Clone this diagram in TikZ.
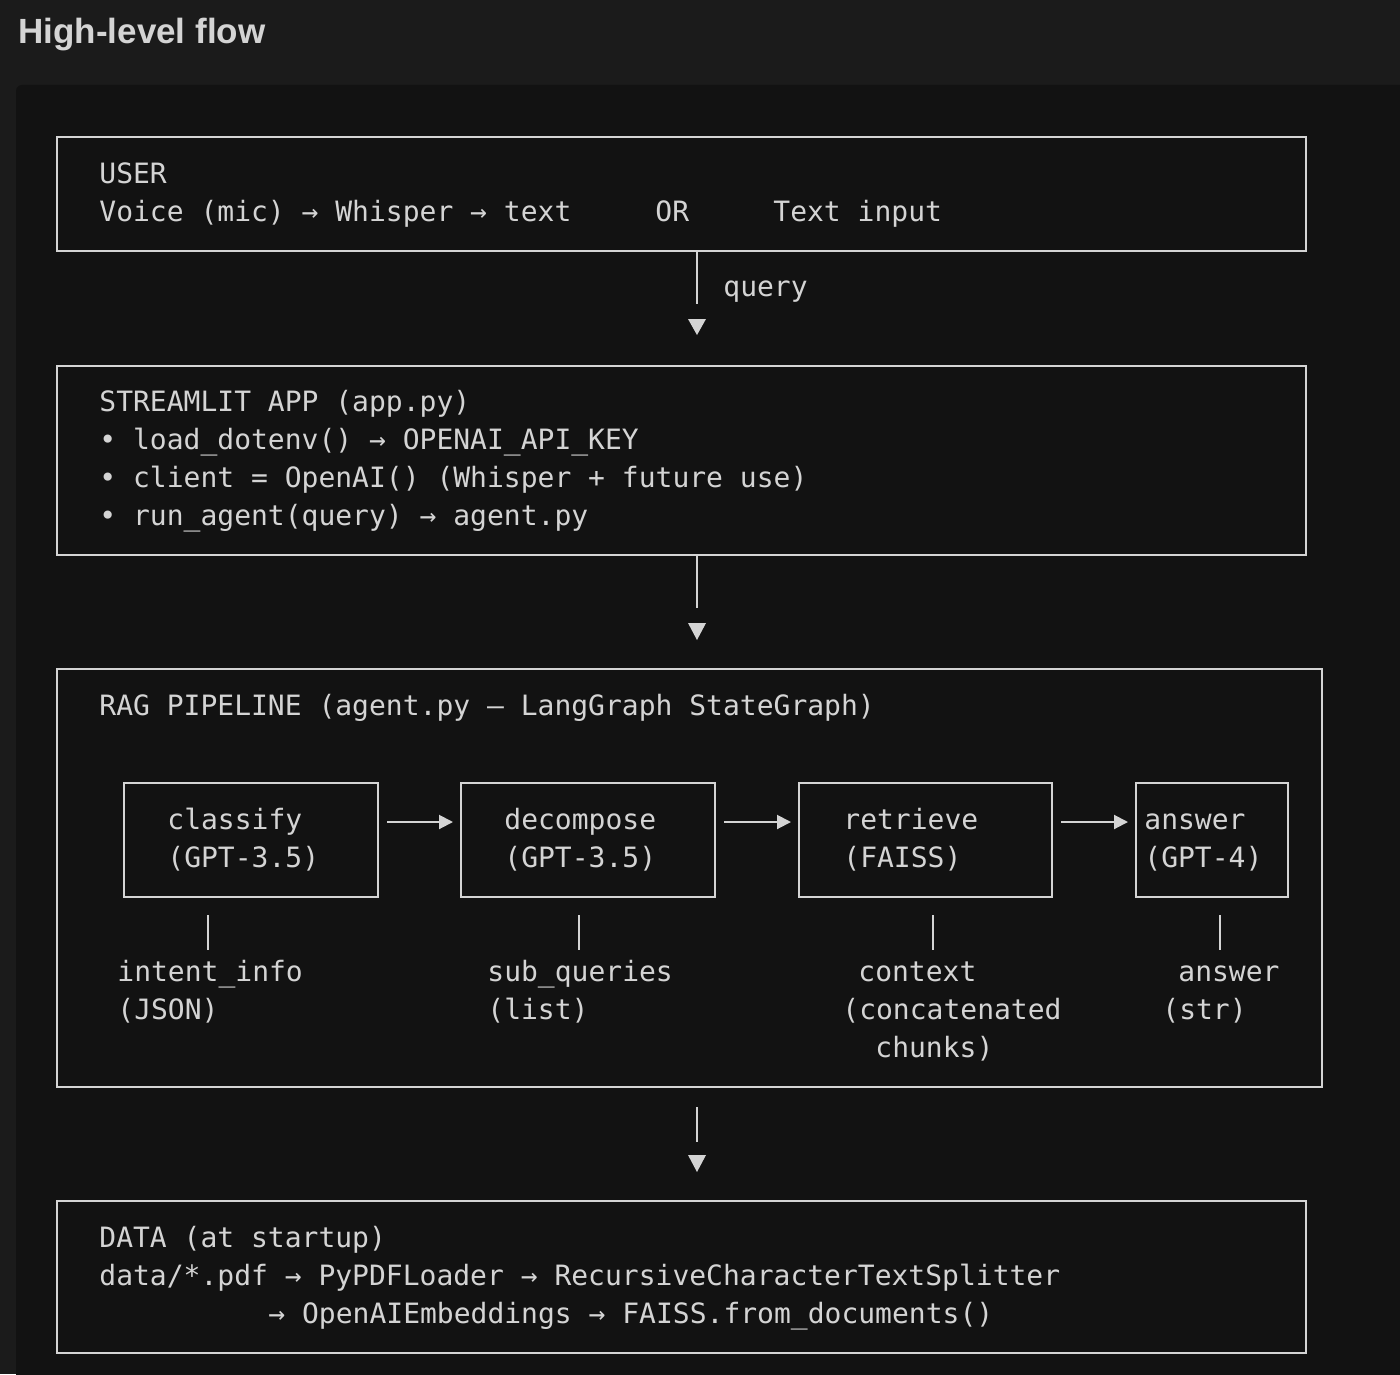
\documentclass[tikz,border=0pt]{standalone}
\usepackage{fontspec}
\setmainfont{Liberation Sans}
\setmonofont{DejaVu Sans Mono}
\usetikzlibrary{arrows.meta}
\definecolor{pagebg}{HTML}{1B1B1B}
\definecolor{codebg}{HTML}{121212}
\definecolor{ink}{HTML}{D4D4D4}

\begin{document}
\begin{tikzpicture}[x=0.5pt,y=-0.5pt,
		bigbox/.style={draw=ink,line width=1pt,anchor=north west,inner sep=0pt,minimum height=57pt},
		smallbox/.style={draw=ink,line width=1pt,anchor=north west,inner sep=0pt,minimum height=57pt},
		code/.style={anchor=base west,inner sep=0pt,text=ink,font=\ttfamily\fontsize{14}{17}\selectfont},
		flow/.style={draw=ink,line width=1pt,-{Triangle[length=7pt,width=7pt]}},
		stem/.style={draw=ink,line width=1pt}
		]
		\useasboundingbox (0,0) rectangle (1400,1374);
		\fill[pagebg] (0,0) rectangle (1400,1374);
		\fill[codebg,rounded corners=3pt] (16,85) rectangle (1440,1410);
		\node[anchor=base west,inner sep=0pt,text=ink,font=\bfseries\fontsize{17.5}{20}\selectfont] (T) at (18,44) {High-level flow};
		
		% the four stages
		\node[bigbox,minimum width=624.5pt] (U) at (56,136) {};
		\node[bigbox,minimum width=624.5pt,minimum height=94.5pt] (S) at (56,365) {};
		\node[bigbox,minimum width=632.5pt,minimum height=209pt] (R) at (56,668) {};
		\node[bigbox,minimum width=624.5pt,minimum height=76pt] (D) at (56,1200) {};
		
		\node[code] (U1) at (99,184) {USER};
		\node[code] (U2) at (99,222) {Voice (mic) → Whisper → text};
		\node[code] (U3) at (655,222) {OR};
		\node[code] (U4) at (773,222) {Text input};
		
		\node[code] (S1) at (99,411) {STREAMLIT APP (app.py)};
		\node[code] (S2) at (99,449) {• load\_dotenv() → OPENAI\_API\_KEY};
		\node[code] (S3) at (99,487) {• client = OpenAI() (Whisper + future use)};
		\node[code] (S4) at (99,525) {• run\_agent(query) → agent.py};
		
		\node[code] (R0) at (99,715) {RAG PIPELINE (agent.py — LangGraph StateGraph)};
		
		\node[code] (D1) at (99,1247) {DATA (at startup)};
		\node[code] (D2) at (99,1285) {data/*.pdf → PyPDFLoader → RecursiveCharacterTextSplitter};
		\node[code] (D3) at (268,1323) {→ OpenAIEmbeddings → FAISS.from\_documents()};
		
		% down connectors
		\coordinate (M) at (697,0);
		\draw[stem] (M |- U.south) -- ++(0,52);
		\fill[ink] (688,319) -- (706,319) -- (697,335) -- cycle;
		\node[code] (Q) at (723,297) {query};
		\draw[stem] (M |- S.south) -- ++(0,52);
		\fill[ink] (688,623) -- (706,623) -- (697,640) -- cycle;
		\draw[stem] (M |- R.south) ++(0,19) -- ++(0,35);
		\fill[ink] (688,1155) -- (706,1155) -- (697,1172) -- cycle;
		
		% graph nodes inside the pipeline
		\node[smallbox,minimum width=127pt] (C) at (123,782) {};
		\node[smallbox,minimum width=127pt] (P) at (460,782) {};
		\node[smallbox,minimum width=126.5pt] (F) at (798,782) {};
		\node[smallbox,minimum width=76pt] (A) at (1135,782) {};
		
		\node[code] (C1) at (167,829) {classify};
		\node[code] (C2) at (167,867) {(GPT-3.5)};
		\node[code] (P1) at (504,829) {decompose};
		\node[code] (P2) at (504,867) {(GPT-3.5)};
		\node[code] (F1) at (843,829) {retrieve};
		\node[code] (F2) at (843,867) {(FAISS)};
		\node[code] (A1) at (1144,829) {answer};
		\node[code] (A2) at (1144,867) {(GPT-4)};
		
		\draw[flow] ([shift={(4pt,9pt)}]C.east) -- ([shift={(-3.5pt,9pt)}]P.west);
		\draw[flow] ([shift={(4pt,9pt)}]P.east) -- ([shift={(-3.5pt,9pt)}]F.west);
		\draw[flow] ([shift={(4pt,9pt)}]F.east) -- ([shift={(-3.5pt,9pt)}]A.west);
		
		% what each step hands on
		\draw[stem] (208,915) -- (208,950);
		\draw[stem] (579,915) -- (579,950);
		\draw[stem] (933,915) -- (933,950);
		\draw[stem] (1220,915) -- (1220,950);
		\node[code] (C3) at (117,981) {intent\_info};
		\node[code] (C4) at (117,1019) {(JSON)};
		\node[code] (P3) at (487,981) {sub\_queries};
		\node[code] (P4) at (487,1019) {(list)};
		\node[code] (F3) at (858,981) {context};
		\node[code] (F4) at (842,1019) {(concatenated};
		\node[code] (F5) at (875,1057) {chunks)};
		\node[code] (A3) at (1178,981) {answer};
		\node[code] (A4) at (1162,1019) {(str)};
	\end{tikzpicture}
\end{document}
